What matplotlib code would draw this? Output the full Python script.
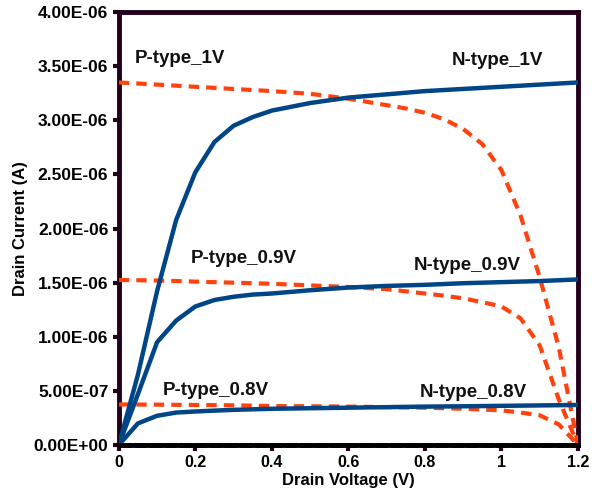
import matplotlib
matplotlib.use("Agg")
import matplotlib.pyplot as plt

# Dados (tensão em V, corrente em A x 1e-6)
vd_n = [0, 0.05, 0.1, 0.15, 0.2, 0.25, 0.3, 0.35, 0.4, 0.5, 0.6, 0.7, 0.8, 0.9, 1.0, 1.1, 1.2]
n_1v = [0, 0.65, 1.42, 2.08, 2.52, 2.8, 2.95, 3.03, 3.09, 3.16, 3.21, 3.24, 3.27, 3.29, 3.31, 3.33, 3.35]
n_09v = [0, 0.47, 0.95, 1.15, 1.28, 1.34, 1.37, 1.39, 1.40, 1.43, 1.455, 1.47, 1.48, 1.495, 1.505, 1.515, 1.53]
n_08v = [0, 0.20, 0.27, 0.30, 0.31, 0.318, 0.325, 0.33, 0.335, 0.34, 0.345, 0.35, 0.355, 0.358, 0.362, 0.366, 0.37]

vd_p = [0, 0.1, 0.2, 0.3, 0.4, 0.5, 0.6, 0.7, 0.75, 0.8, 0.85, 0.9, 0.95, 1.0, 1.05, 1.1, 1.15, 1.2]
p_1v = [3.35, 3.33, 3.31, 3.29, 3.27, 3.245, 3.20, 3.14, 3.11, 3.07, 3.01, 2.92, 2.78, 2.54, 2.12, 1.55, 0.9, 0.0]
p_09v = [1.525, 1.52, 1.51, 1.50, 1.49, 1.475, 1.46, 1.44, 1.42, 1.40, 1.38, 1.355, 1.32, 1.28, 1.17, 0.92, 0.42, 0.0]
p_08v = [0.375, 0.373, 0.37, 0.367, 0.36, 0.358, 0.355, 0.35, 0.348, 0.345, 0.34, 0.335, 0.328, 0.32, 0.30, 0.275, 0.19, 0.0]

zero_x = [0, 1.2]
zero_y = [0, 0]

rotulos = ["P-type_1V", "N-type_1V", "P-type_0.9V", "N-type_0.9V", "P-type_0.8V", "N-type_0.8V"]
rot_x = [0.042, 0.87, 0.1875, 0.77, 0.116, 0.787]
rot_y = [3.53, 3.51, 1.678, 1.617, 0.462, 0.446]

yticks = [0, 0.5e-6, 1e-6, 1.5e-6, 2e-6, 2.5e-6, 3e-6, 3.5e-6, 4e-6]
xticks = [0, 0.2, 0.4, 0.6, 0.8, 1, 1.2]
xtick_labels = ["0", "0.2", "0.4", "0.6", "0.8", "1", "1.2"]

azul = "#004586"
laranja = "#ff420e"
borda = "#22001a"

plt.rcParams['font.family'] = ['Liberation Sans', 'DejaVu Sans']
plt.rcParams['font.weight'] = 'bold'

fig = plt.figure(figsize=(6.03, 5.04), dpi=100)
ax = fig.add_axes([0.197, 0.117, 0.9585 - 0.197, 0.976 - 0.117])

esc = 1e-6
for serie in [p_1v, p_09v, p_08v]:
    ax.plot(vd_p, [v * esc for v in serie], color=laranja, lw=3, dashes=(2.5, 1.7), zorder=3)
for serie in [n_1v, n_09v, n_08v]:
    ax.plot(vd_n, [v * esc for v in serie], color=azul, lw=3.2, zorder=4, solid_joinstyle='round')

ax.plot(zero_x, zero_y, color="black", lw=3.5, dashes=(2.5, 0.6), clip_on=False, zorder=5)

for t, x, y in zip(rotulos, rot_x, rot_y):
    ax.text(x, y * esc, t, fontsize=13.5, fontweight='bold', ha='left', va='baseline', color="#111111")

ax.set_xlim(0, 1.2)
ax.set_ylim(0, 4e-6)
ax.set_yticks(yticks)
ax.set_yticklabels(["%.2E" % v for v in yticks])
ax.set_xticks(xticks)
ax.set_xticklabels(xtick_labels)

for lado in ax.spines.values():
    lado.set_linewidth(3.5)
    lado.set_color(borda)
ax.spines['bottom'].set_color("black")

ax.tick_params(axis='both', direction='out', length=4.5, width=3, color=borda, pad=3)
ax.tick_params(axis='y', labelsize=12.5)
ax.tick_params(axis='x', labelsize=11.5)

ax.set_xlabel("Drain Voltage (V)", fontsize=12, fontweight='bold', labelpad=2)
ax.set_ylabel("Drain Current (A)", fontsize=12, fontweight='bold', labelpad=4)

fig.savefig("out.png", dpi=100)
